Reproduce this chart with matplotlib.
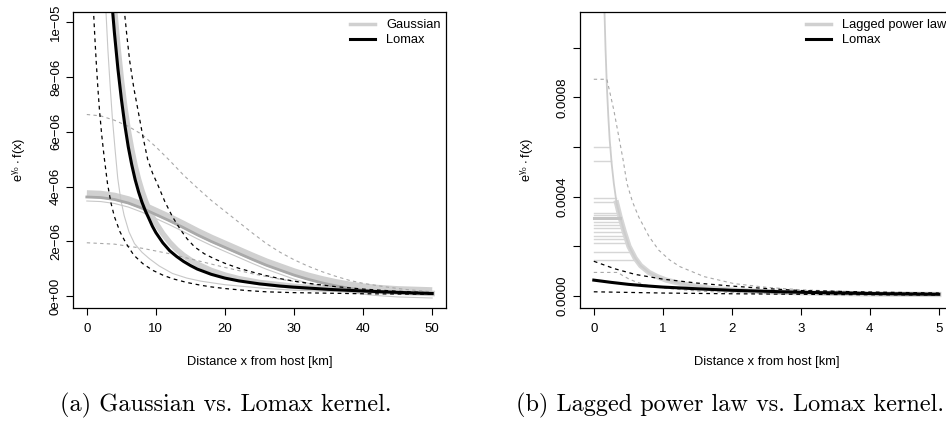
import numpy as np
import matplotlib
matplotlib.use('Agg')
import matplotlib.pyplot as plt
from matplotlib import transforms

plt.rcParams['font.family'] = ['Liberation Sans', 'DejaVu Sans']
plt.rcParams['mathtext.default'] = 'regular'

# ---------------- Panel (a): Gaussian vs Lomax (values in 1e-6) ----------------
UA = 1e-6
gauss_x = [0, 2, 4, 6, 8, 10, 12, 14, 16, 18, 20, 22, 24, 26, 28, 30, 32, 34, 36, 38, 40, 42, 45, 50]
gauss_med = [3.62, 3.60, 3.53, 3.40, 3.21, 2.98, 2.75, 2.50, 2.24, 2.00, 1.78, 1.56, 1.34,
             1.13, 0.95, 0.77, 0.62, 0.49, 0.38, 0.29, 0.22, 0.17, 0.12, 0.08]
gauss_up_x = [0, 2, 4, 6, 8, 10, 12, 14, 16, 18, 20, 22, 24, 26, 28, 30, 32, 34, 36, 38, 40, 43, 46, 50]
gauss_up = [6.63, 6.58, 6.42, 6.20, 5.90, 5.45, 4.95, 4.42, 3.95, 3.50, 3.10, 2.70, 2.30, 1.92,
            1.60, 1.33, 1.10, 0.90, 0.73, 0.58, 0.47, 0.35, 0.25, 0.16]
gauss_lo_x = [0, 4, 8, 12, 16, 20, 24, 28, 32, 36, 40, 45, 50]
gauss_lo = [1.95, 1.90, 1.75, 1.55, 1.30, 1.05, 0.82, 0.62, 0.46, 0.33, 0.24, 0.16, 0.10]

lomax_x = [3.7, 4.0, 4.5, 5.0, 5.5, 6.0, 6.5, 7, 7.5, 8, 8.5, 9, 9.5, 10, 11, 12, 13, 14, 15,
           16, 18, 20, 22, 25, 28, 30, 35, 40, 45, 50]
lomax_y = [10.5, 9.6, 8.3, 7.2, 6.25, 5.45, 4.8, 4.25, 3.8, 3.42, 3.1, 2.83, 2.55, 2.32, 1.95,
           1.66, 1.45, 1.27, 1.12, 0.99, 0.80, 0.66, 0.56, 0.45, 0.37, 0.33, 0.25, 0.19, 0.14, 0.10]
lomax_band_x = [4.0, 4.5, 5, 5.5, 6, 6.5, 7, 7.5, 8, 8.5, 9, 9.5, 10, 11, 12, 13, 14, 15, 16,
                18, 20, 22, 25, 30, 35, 40, 50]
lomax_band_y = [10.5, 9.1, 7.9, 6.9, 6.05, 5.35, 4.75, 4.25, 3.83, 3.47, 3.16, 2.9, 2.67, 2.28,
                1.96, 1.70, 1.49, 1.32, 1.17, 0.94, 0.77, 0.64, 0.50, 0.36, 0.27, 0.20, 0.10]
lomax_up_x = [5.4, 5.8, 6.2, 6.8, 7.4, 8.1, 8.8, 9.5, 10.3, 11.3, 12.4, 13.5, 14.5, 15.6, 17,
              18.5, 20, 22, 24, 26, 28, 30, 33, 36, 40, 45, 50]
lomax_up = [10.5, 9.5, 8.6, 7.6, 6.8, 5.85, 5.0, 4.5, 4.05, 3.45, 2.9, 2.45, 2.1, 1.8, 1.55,
            1.36, 1.2, 1.02, 0.88, 0.75, 0.64, 0.55, 0.44, 0.35, 0.26, 0.18, 0.12]
lomax_lo_x = [0.95, 1.15, 1.35, 1.6, 1.83, 2.15, 2.5, 3.0, 3.5, 4.0, 4.8, 5.7, 6.8, 8.1, 9.5,
              11, 12.4, 14.5, 16.5, 18, 20, 23, 26, 30, 35, 40, 45, 50]
lomax_lo = [10.5, 9.5, 8.6, 7.6, 6.8, 5.9, 5.1, 4.1, 3.4, 2.9, 2.35, 1.92, 1.5, 1.19, 0.95,
            0.77, 0.64, 0.5, 0.40, 0.34, 0.28, 0.21, 0.16, 0.13, 0.11, 0.09, 0.08, 0.07]
lomax_s_x = [2.75, 3.05, 3.37, 3.7, 4.1, 4.48, 4.9, 5.4, 6.1, 6.9, 8, 9.05, 10.5, 12.4, 14.5,
             16.5, 20, 26, 30, 40, 50]
lomax_s_y = [10.5, 9.0, 7.7, 6.5, 5.33, 4.3, 3.55, 2.95, 2.35, 1.92, 1.6, 1.37, 1.1, 0.83,
             0.66, 0.55, 0.42, 0.28, 0.22, 0.14, 0.10]

xticks_a = [0, 10, 20, 30, 40, 50]
yticks_a = [0, 2, 4, 6, 8, 10]
yticklabels_a = ['0e+00', '2e\u221206', '4e\u221206', '6e\u221206', '8e\u221206', '1e\u221205']

# ---------------- Panel (b): Lagged power law vs Lomax (values in 1e-4) ----------------
UB = 1e-4
plateaus = [6.01, 5.45, 3.96, 3.80, 3.36, 3.26, 2.99, 2.86, 2.72, 2.59, 2.42, 2.28, 2.12, 1.78, 1.45]
plateau_main = 3.13
decay_x = [0.14, 0.155, 0.17, 0.19, 0.21, 0.23, 0.26, 0.29, 0.33, 0.38, 0.44, 0.51, 0.6, 0.68,
           0.8, 0.92, 1.05, 1.25, 1.45, 1.69, 2.0, 2.5, 3.0, 3.5, 4.0, 4.5, 5.0]
decay_y = [13.3, 11.44, 9.95, 8.4, 7.25, 6.3, 5.3, 4.54, 3.75, 3.19, 2.6, 2.0, 1.52, 1.22,
           0.95, 0.78, 0.64, 0.51, 0.41, 0.31, 0.24, 0.172, 0.13, 0.105, 0.085, 0.072, 0.061]
lpl_up_x = [0, 0.19, 0.29, 0.425, 0.48, 0.56, 0.65, 0.8, 0.94, 1.1, 1.25, 1.6, 2.03, 2.5, 3, 4, 5]
lpl_up = [8.73, 8.73, 7.49, 5.48, 4.54, 3.8, 3.19, 2.4, 1.85, 1.45, 1.18, 0.78, 0.50, 0.35,
          0.25, 0.15, 0.10]
lpl_lo_x = [0, 0.35, 0.42, 0.5, 0.6, 0.75, 1, 1.5, 2, 3, 5]
lpl_lo = [0.95, 0.95, 0.82, 0.70, 0.58, 0.45, 0.32, 0.20, 0.14, 0.08, 0.04]
lomb_x = [0, 0.25, 0.5, 0.75, 1, 1.5, 2, 2.5, 3, 4, 5]
lomb_y = [0.64, 0.55, 0.47, 0.41, 0.36, 0.29, 0.23, 0.19, 0.15, 0.10, 0.07]
lomb_up_x = [0, 0.3, 0.6, 1.0, 1.5, 2, 2.5, 3, 4, 5]
lomb_up = [1.4, 1.1, 0.87, 0.68, 0.52, 0.40, 0.30, 0.22, 0.16, 0.12]
lomb_lo_x = [0, 1, 2, 3, 4, 5]
lomb_lo = [0.17, 0.12, 0.09, 0.07, 0.05, 0.04]

xticks_b = [0, 1, 2, 3, 4, 5]
yticks_b = [0, 2, 4, 6, 8, 10]
yticklabels_b = ['0.0000', '', '0.0004', '', '0.0008', '']

# ---------------- styles ----------------
LIGHT = '#d0d0d0'
MID = '#a9a9a9'
GDASH = '#a8a8a8'
DASH = (0, (3, 3))
FS_TICK = 9.5
FS_LAB = 9.3
FS_LEG = 9.3

fig = plt.figure(figsize=(9.46, 4.23), dpi=100)
axA = fig.add_axes([73 / 946, 1 - 308 / 423, 373 / 946, 296 / 423])
axB = fig.add_axes([580 / 946, 1 - 308 / 423, 372.6 / 946, 296 / 423])

def arr(v, u):
    return np.asarray(v, dtype=float) * u

# ---- panel a ----
ax = axA
up3 = transforms.offset_copy(ax.transData, fig=fig, x=0, y=3, units='dots')
dn4 = transforms.offset_copy(ax.transData, fig=fig, x=0, y=-4, units='dots')
ax.plot(gauss_x, arr(gauss_med, UA), color=LIGHT, lw=5.5, transform=up3, solid_capstyle='butt')
ax.plot(gauss_x, arr(gauss_med, UA), color='#c8c8c8', lw=0.8, transform=dn4)
ax.plot(lomax_band_x, arr(lomax_band_y, UA), color=LIGHT, lw=4)
ax.plot(lomax_s_x, arr(lomax_s_y, UA), color='#c8c8c8', lw=0.8)
ax.plot(gauss_x, arr(gauss_med, UA), color=MID, lw=2)
ax.plot(gauss_up_x, arr(gauss_up, UA), color=GDASH, lw=0.8, ls=DASH)
ax.plot(gauss_lo_x, arr(gauss_lo, UA), color=GDASH, lw=0.8, ls=DASH)
ax.plot(lomax_up_x, arr(lomax_up, UA), color='black', lw=0.9, ls=DASH)
ax.plot(lomax_lo_x, arr(lomax_lo, UA), color='black', lw=0.9, ls=DASH)
ax.plot(lomax_x, arr(lomax_y, UA), color='black', lw=2.2)
ax.set_xlim(-2, 52)
ax.set_ylim(-0.43e-6, 10.37e-6)
ax.set_xticks(xticks_a)
ax.set_yticks(arr(yticks_a, UA))
ax.set_yticklabels(yticklabels_a, rotation=90, va='center')
h1, = ax.plot([], [], color=LIGHT, lw=2.5)
h2, = ax.plot([], [], color='black', lw=2.2)
ax.legend([h1, h2], ['Gaussian', 'Lomax'], loc='upper left', bbox_to_anchor=(0.743, 0.975),
          frameon=False, fontsize=FS_LEG, borderpad=0, borderaxespad=0, handlelength=1.9,
          handletextpad=0.9, labelspacing=0.2)

# ---- panel b ----
ax = axB
dec_x = np.asarray(decay_x)
dec_y = np.asarray(decay_y)
for h in plateaus:
    xe = np.interp(-h, -dec_y, dec_x)
    ax.plot([0, xe], [h * UB, h * UB], color='#d6d6d6', lw=1.0)
mask = dec_y <= 4.0
ax.plot(dec_x[mask], dec_y[mask] * UB, color='#d6d6d6', lw=3.8)
ax.plot(dec_x, dec_y * UB, color='#cdcdcd', lw=1.3)
xm = np.interp(-plateau_main, -dec_y, dec_x)
ax.plot([0, xm], [plateau_main * UB] * 2, color='#c4c4c4', lw=2.2)
ax.plot(lpl_up_x, arr(lpl_up, UB), color=GDASH, lw=0.8, ls=DASH)
ax.plot(lpl_lo_x, arr(lpl_lo, UB), color=GDASH, lw=0.8, ls=DASH)
ax.plot(lomb_up_x, arr(lomb_up, UB), color='black', lw=0.9, ls=DASH)
ax.plot(lomb_lo_x, arr(lomb_lo, UB), color='black', lw=0.9, ls=DASH)
ax.plot(lomb_x, arr(lomb_y, UB), color='black', lw=2.2)
ax.set_xlim(-0.2, 5.2)
ax.set_ylim(-0.0000483, 0.001144)
ax.set_xticks(xticks_b)
ax.set_yticks(arr(yticks_b, UB))
ax.set_yticklabels(yticklabels_b, rotation=90, va='center')
h1, = ax.plot([], [], color=LIGHT, lw=2.5)
h2, = ax.plot([], [], color='black', lw=2.2)
ax.legend([h1, h2], ['Lagged power law', 'Lomax'], loc='upper left', bbox_to_anchor=(0.6066, 0.975),
          frameon=False, fontsize=FS_LEG, borderpad=0, borderaxespad=0, handlelength=1.9,
          handletextpad=0.9, labelspacing=0.2)

for ax in (axA, axB):
    for s in ax.spines.values():
        s.set_linewidth(0.9)
    ax.tick_params(direction='out', length=5, width=0.8, labelsize=FS_TICK)
    ax.tick_params(axis='x', pad=6)
    ax.tick_params(axis='y', pad=3)
    ax.set_xlabel('Distance x from host [km]', fontsize=FS_LAB)
    ax.xaxis.set_label_coords(0.5, -0.162)
    ax.set_ylabel(r'e$^{\gamma_0}\cdot$f(x)', fontsize=FS_LAB)
axA.yaxis.set_label_coords(-0.121, 0.5)
axB.yaxis.set_label_coords(-0.118, 0.5)

fig.text(60 / 946, 1 - 405 / 423, '(a) Gaussian vs. Lomax kernel.', family='cmr10',
         fontsize=17.5, ha='left', va='center')
fig.text(516 / 946, 1 - 405 / 423, '(b) Lagged power law vs. Lomax kernel.', family='cmr10',
         fontsize=17.5, ha='left', va='center')

fig.savefig('out.png', dpi=100)
